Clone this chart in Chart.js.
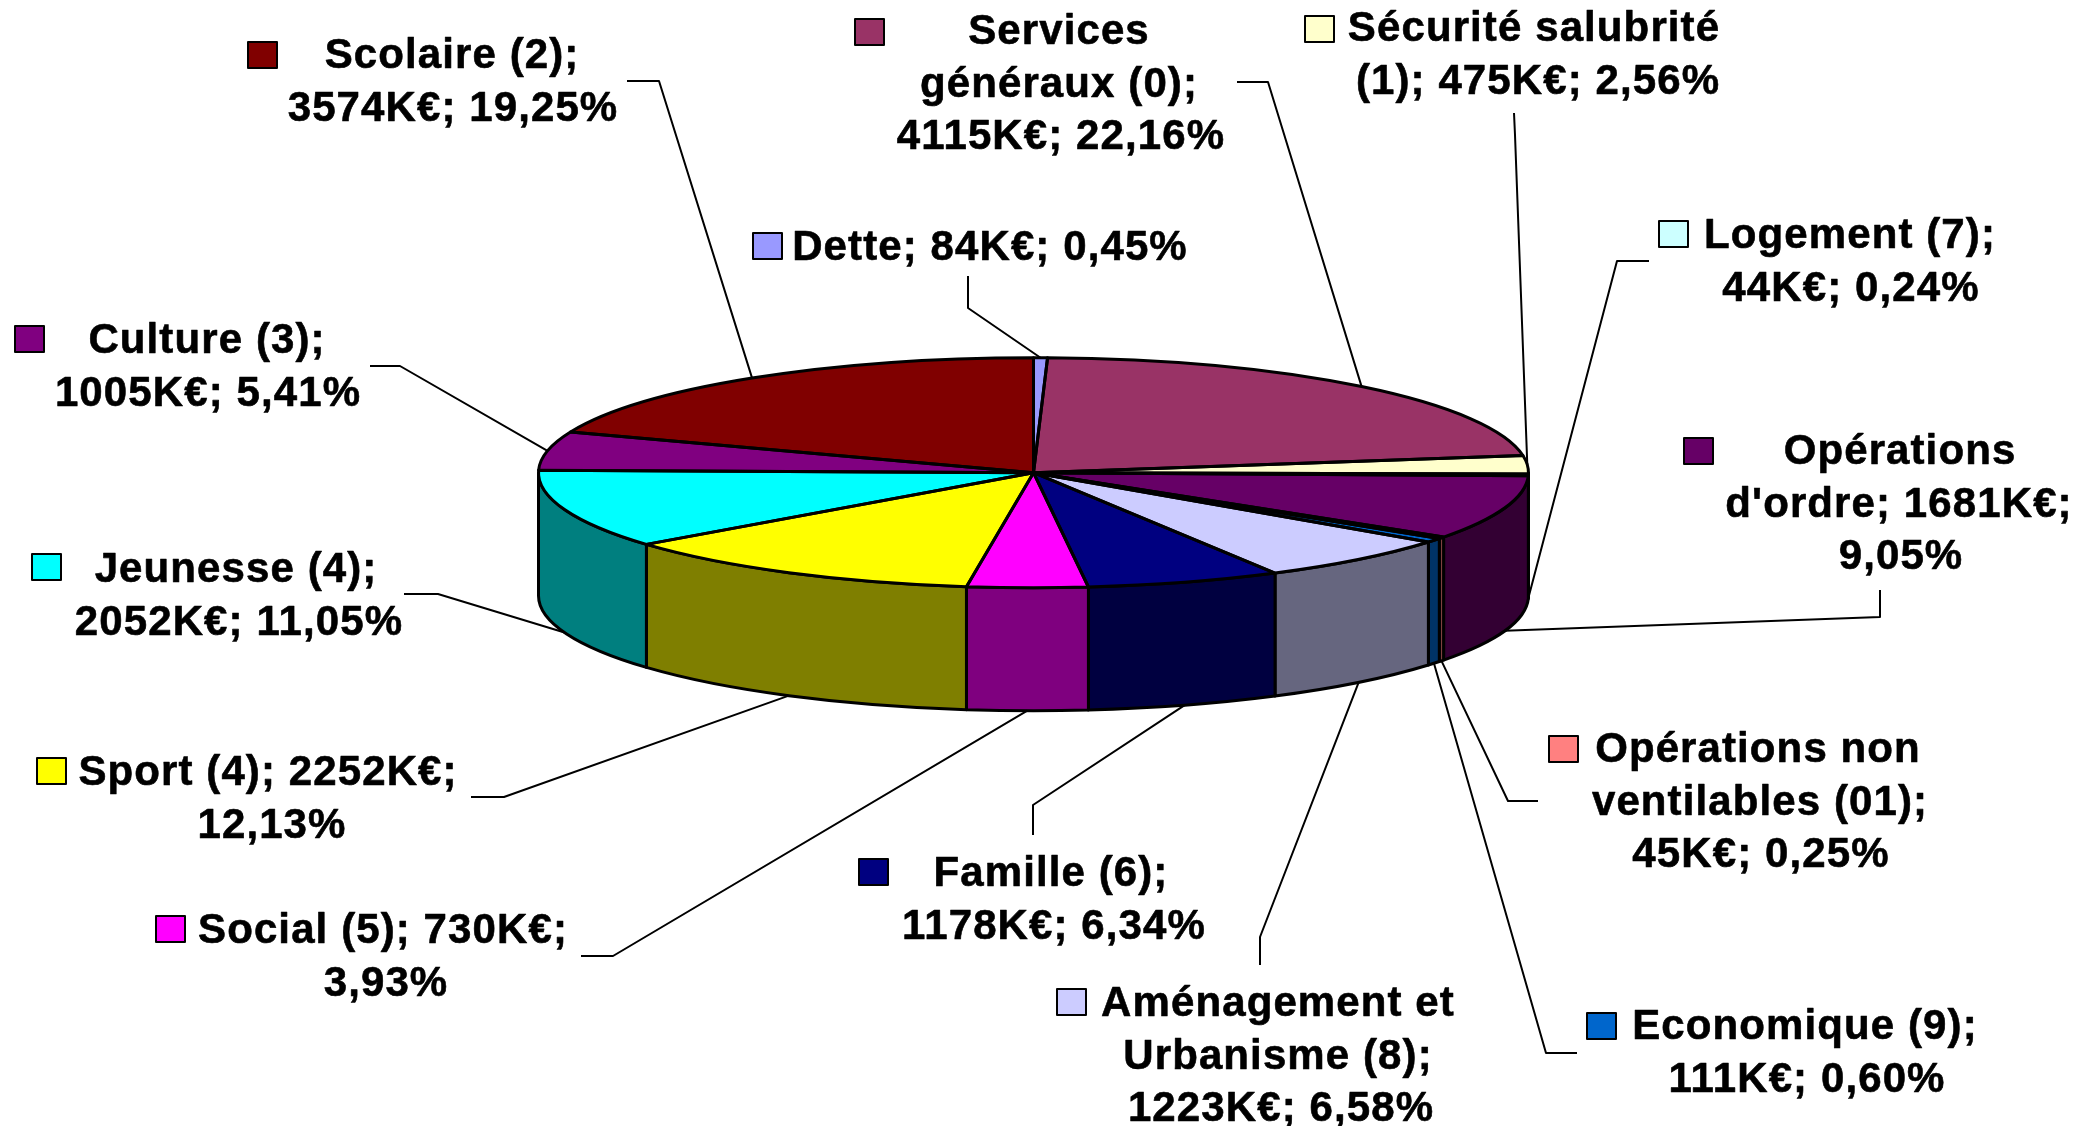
<!DOCTYPE html>
<html lang="fr">
<head>
<meta charset="utf-8">
<title>Budget par fonction</title>
<style>
  html, body { margin: 0; background: #fff; }
  canvas { display: block; }
</style>
<script src="https://cdn.jsdelivr.net/npm/chart.js@4/dist/chart.umd.min.js"></script>
</head>
<body>
<canvas id="pie" width="2079" height="1126"></canvas>
<script>
'use strict';

const CATEGORIES = ['Dette', 'Services généraux (0)', 'Sécurité salubrité (1)', 'Logement (7)', "Opérations d'ordre",
  'Opérations non ventilables (01)', 'Economique (9)', 'Aménagement et Urbanisme (8)', 'Famille (6)',
  'Social (5)', 'Sport (4)', 'Jeunesse (4)', 'Culture (3)', 'Scolaire (2)'];
const VALUES_KEUR = [84, 4115, 475, 44, 1681, 45, 111, 1223, 1178, 730, 2252, 2052, 1005, 3574];
const COLORS = ['#9999FF', '#993366', '#FFFFCC', '#CCFFFF', '#660066', '#FF8080', '#0066CC', '#CCCCFF', '#000080',
  '#FF00FF', '#FFFF00', '#00FFFF', '#800080', '#800000'];
const LABEL_LINES = [
  ['Dette; 84K€; 0,45%'],
  ['Services', 'généraux (0);', '4115K€; 22,16%'],
  ['Sécurité salubrité', '(1); 475K€; 2,56%'],
  ['Logement (7);', '44K€; 0,24%'],
  ['Opérations', "d'ordre; 1681K€;", '9,05%'],
  ['Opérations non', 'ventilables (01);', '45K€; 0,25%'],
  ['Economique (9);', '111K€; 0,60%'],
  ['Aménagement et', 'Urbanisme (8);', '1223K€; 6,58%'],
  ['Famille (6);', '1178K€; 6,34%'],
  ['Social (5); 730K€;', '3,93%'],
  ['Sport (4); 2252K€;', '12,13%'],
  ['Jeunesse (4);', '2052K€; 11,05%'],
  ['Culture (3);', '1005K€; 5,41%'],
  ['Scolaire (2);', '3574K€; 19,25%']
];

// where each callout sits: swatch corner, centre x of each line, first baseline, leader elbow
const LABEL_LAYOUT = [
  { sw: [753, 233], xs: [990], y: 260, leader: [[968, 276], [968, 308]] },
  { sw: [855, 19], xs: [1059, 1059, 1061], y: 44, leader: [[1237, 82], [1268, 82]] },
  { sw: [1305, 16], xs: [1534, 1538], y: 41, leader: [[1514, 113], [1515, 135]] },
  { sw: [1659, 221], xs: [1850, 1851], y: 248, leader: [[1649, 261], [1617, 261]] },
  { sw: [1684, 438], xs: [1900, 1899, 1901], y: 464, leader: [[1880, 590], [1880, 617]] },
  { sw: [1549, 736], xs: [1758, 1760, 1761], y: 762, leader: [[1538, 801], [1508, 801]] },
  { sw: [1587, 1013], xs: [1805, 1807], y: 1039, leader: [[1577, 1053], [1546, 1053]] },
  { sw: [1057, 989], xs: [1278, 1278, 1281], y: 1016, leader: [[1260, 965], [1260, 937]] },
  { sw: [859, 859], xs: [1051, 1054], y: 886, leader: [[1033, 835], [1033, 805]] },
  { sw: [156, 916], xs: [383, 386], y: 943, leader: [[581, 956], [613, 956]] },
  { sw: [37, 758], xs: [268, 272], y: 785, leader: [[471, 797], [504, 797]] },
  { sw: [32, 554], xs: [236, 239], y: 582, leader: [[404, 594], [438, 594]] },
  { sw: [15, 326], xs: [207, 208], y: 353, leader: [[370, 366], [400, 366]] },
  { sw: [248, 42], xs: [452, 453], y: 68, leader: [[627, 81], [659, 81]] }
];

const PIE_CY = 472.7;
const TILT = 115 / 495;
const DEPTH = 123;
const LINE_HEIGHT = 52.7;

// side walls are the top colour at half brightness
function halve(hex) {
  const n = parseInt(hex.slice(1), 16);
  const part = s => (((n >> s) & 255) >> 1).toString(16).padStart(2, '0');
  return `#${part(16)}${part(8)}${part(0)}`;
}

function drawWalls(ctx, arcs) {
  const ry = arcs[0].outerRadius * TILT;
  arcs.forEach((arc, i) => {
    const a0 = Math.max(arc.startAngle, 0);
    const a1 = Math.min(arc.endAngle, Math.PI);
    if (a1 <= a0) return;
    ctx.beginPath();
    ctx.ellipse(arc.x, PIE_CY, arc.outerRadius, ry, 0, a0, a1);
    ctx.ellipse(arc.x, PIE_CY + DEPTH, arc.outerRadius, ry, 0, a1, a0, true);
    ctx.closePath();
    ctx.fillStyle = halve(COLORS[i]);
    ctx.fill();
    ctx.stroke();
  });
}

function drawTopOutlines(ctx, arcs) {
  const ry = arcs[0].outerRadius * TILT;
  arcs.forEach(arc => {
    ctx.beginPath();
    ctx.moveTo(arc.x, PIE_CY);
    ctx.ellipse(arc.x, PIE_CY, arc.outerRadius, ry, 0, arc.startAngle, arc.endAngle);
    ctx.closePath();
    ctx.stroke();
  });
}

function drawCallouts(ctx, arcs) {
  const ry = arcs[0].outerRadius * TILT;
  ctx.font = 'bold 42px "Liberation Sans"';
  ctx.letterSpacing = '1.1px';
  ctx.textAlign = 'center';
  ctx.textBaseline = 'alphabetic';

  LABEL_LAYOUT.forEach((item, i) => {
    const arc = arcs[i];
    const mid = (arc.startAngle + arc.endAngle) / 2;
    const front = mid > 0 && mid < Math.PI;
    const ax = arc.x + Math.cos(mid) * arc.outerRadius;
    const ay = PIE_CY + Math.sin(mid) * ry + (front ? DEPTH : 0);

    ctx.beginPath();
    ctx.lineWidth = 2;
    ctx.strokeStyle = '#000';
    item.leader.forEach(([x, y], k) => (k ? ctx.lineTo(x, y) : ctx.moveTo(x, y)));
    ctx.lineTo(ax, ay);
    ctx.stroke();

    ctx.fillStyle = COLORS[i];
    ctx.fillRect(item.sw[0], item.sw[1], 29, 26);
    ctx.strokeRect(item.sw[0], item.sw[1], 29, 26);

    // the original lettering is a little heavier than plain bold
    ctx.fillStyle = '#000';
    ctx.lineWidth = 0.6;
    LABEL_LINES[i].forEach((line, k) => {
      ctx.fillText(line, item.xs[k], item.y + k * LINE_HEIGHT);
      ctx.strokeText(line, item.xs[k], item.y + k * LINE_HEIGHT);
    });
  });
}

const tiltedPie = {
  id: 'tiltedPie',
  beforeDatasetsDraw(chart) {
    const ctx = chart.ctx;
    const arcs = chart.getDatasetMeta(0).data;
    ctx.save();
    ctx.lineWidth = 3;
    ctx.lineJoin = 'round';
    ctx.strokeStyle = '#000';
    drawWalls(ctx, arcs);
    ctx.restore();

    // squash the library's round pie into the top face
    ctx.save();
    ctx.translate(0, PIE_CY - arcs[0].y * TILT);
    ctx.scale(1, TILT);
  },
  afterDatasetsDraw(chart) {
    const ctx = chart.ctx;
    const arcs = chart.getDatasetMeta(0).data;
    ctx.restore();
    ctx.save();
    ctx.lineWidth = 3;
    ctx.lineJoin = 'round';
    ctx.strokeStyle = '#000';
    drawTopOutlines(ctx, arcs);
    drawCallouts(ctx, arcs);
    ctx.restore();
  }
};

new Chart(document.getElementById('pie'), {
  type: 'pie',
  data: {
    labels: CATEGORIES,
    datasets: [{ data: VALUES_KEUR, backgroundColor: COLORS, borderWidth: 0 }]
  },
  options: {
    responsive: false,
    animation: false,
    devicePixelRatio: 1,
    layout: { padding: { top: 68, bottom: 68, left: 0, right: 12 } },
    plugins: { legend: { display: false }, tooltip: { enabled: false } }
  },
  plugins: [tiltedPie]
});
</script>
</body>
</html>
